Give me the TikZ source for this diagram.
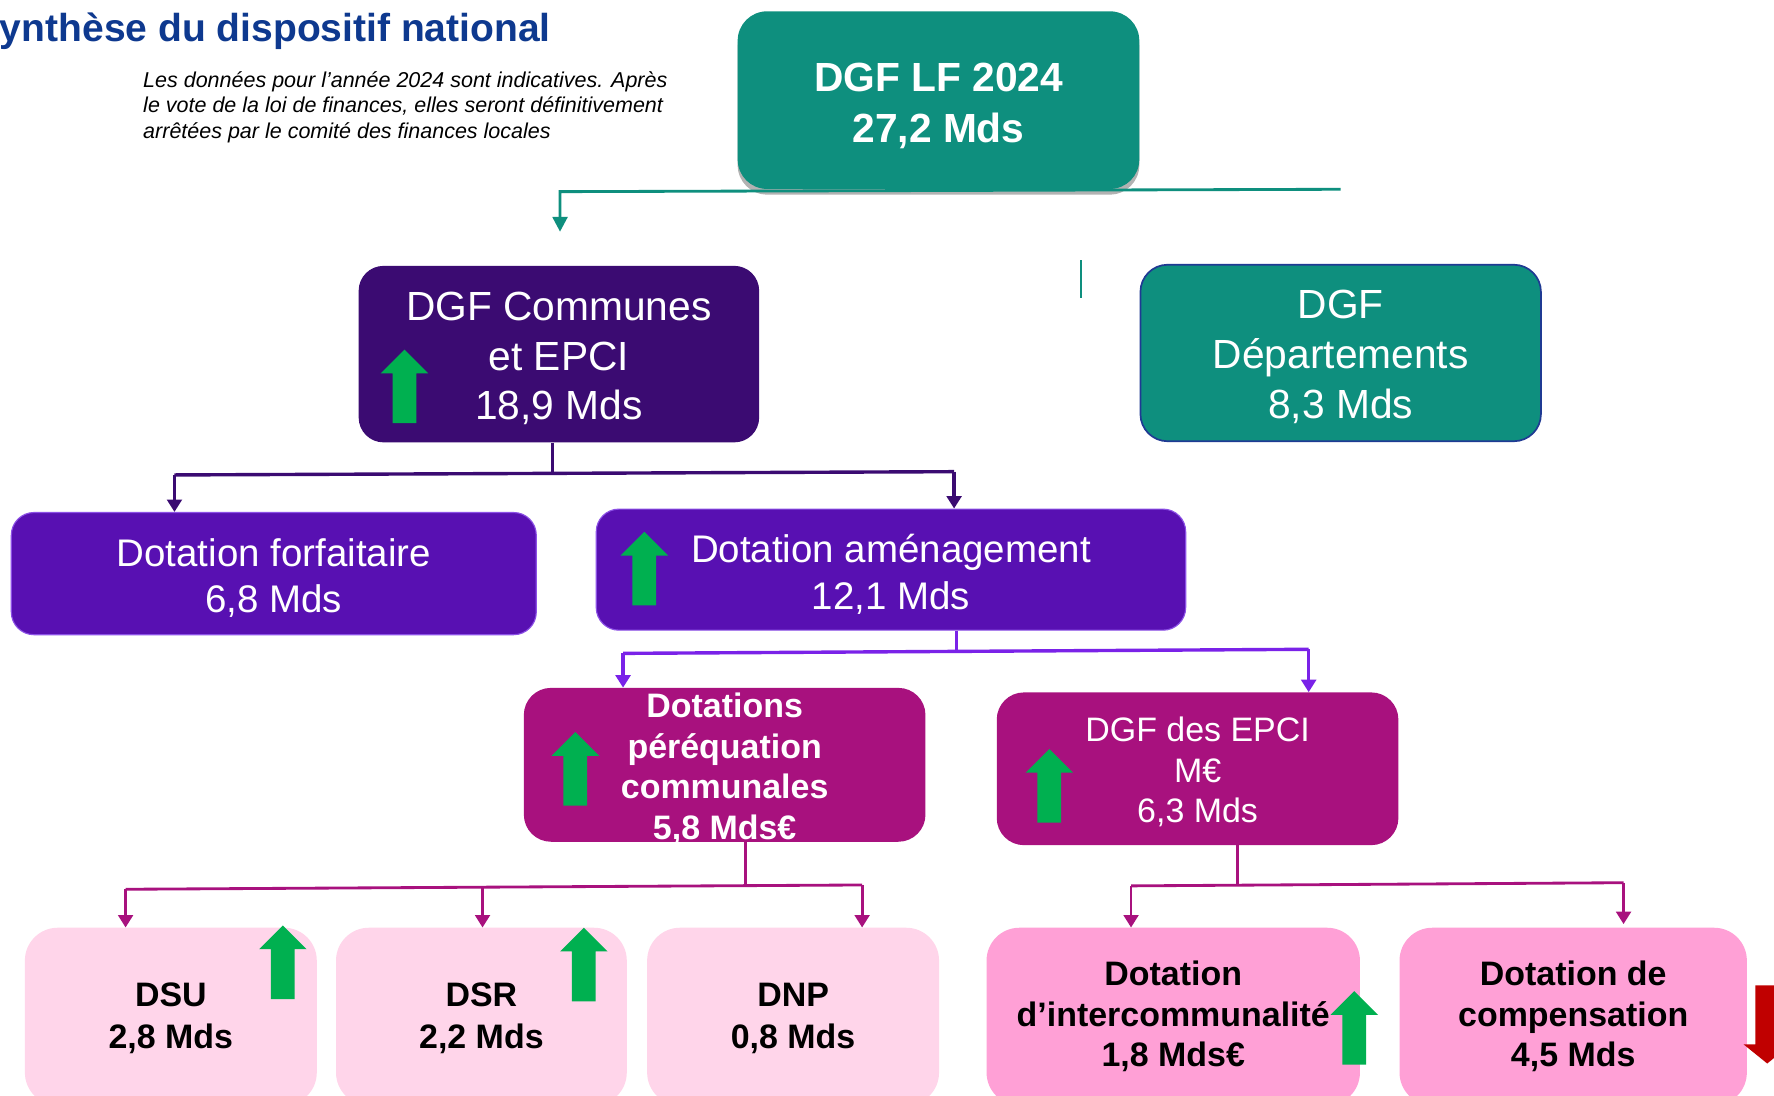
\documentclass[tikz,border=0pt]{standalone}
\usepackage{fontspec}
\setmainfont{Liberation Sans}
\usetikzlibrary{arrows.meta,shadows,calc}
\definecolor{teal1}{RGB}{14,143,126}
\definecolor{dpurple}{RGB}{59,11,114}
\definecolor{mpurple}{RGB}{88,16,178}
\definecolor{mpborder}{RGB}{140,80,230}
\definecolor{vline}{RGB}{122,34,232}
\definecolor{magenta1}{RGB}{168,17,126}
\definecolor{lpink}{RGB}{255,213,234}
\definecolor{pink1}{RGB}{255,160,214}
\definecolor{tblue}{RGB}{14,57,143}
\definecolor{upgreen}{RGB}{0,176,80}
\definecolor{downred}{RGB}{192,0,0}
\definecolor{depborder}{RGB}{31,58,147}
\newcommand{\firststrut}[1]{\rule{0pt}{#1}}
\tikzset{
  boxbase/.style={rectangle, inner sep=0pt, align=center},
  topbox/.style={boxbase, fill=teal1, text=white, rounded corners=26pt,
     font=\bfseries\fontsize{36}{45}\selectfont,
     drop shadow={shadow xshift=0pt, shadow yshift=-5pt, opacity=0.3, fill=black}},
  depbox/.style={boxbase, fill=teal1, draw=depborder, line width=1.5pt, text=white, rounded corners=24pt,
     font=\fontsize{36}{44.5}\selectfont},
  dpbox/.style={boxbase, fill=dpurple, text=white, rounded corners=22pt,
     font=\fontsize{36}{44}\selectfont},
  mpbox/.style={boxbase, fill=mpurple, draw=mpborder, line width=1pt, text=white, rounded corners=20pt,
     font=\fontsize{34}{41}\selectfont},
  magbox/.style={boxbase, fill=magenta1, text=white, rounded corners=24pt},
  lpbox/.style={boxbase, fill=lpink, text=black, rounded corners=29pt,
     font=\bfseries\fontsize{30}{37}\selectfont},
  pkbox/.style={boxbase, fill=pink1, text=black, rounded corners=29pt,
     font=\bfseries\fontsize{30}{36}\selectfont},
  tealln/.style={draw=teal1, line width=2.5pt},
  dpln/.style={draw=dpurple, line width=3pt},
  vln/.style={draw=vline, line width=3pt},
  magln/.style={draw=magenta1, line width=2.5pt},
  bigtip/.style={-{Triangle[width=13pt,length=13pt]}},
  smalltip/.style={-{Triangle[width=13pt,length=11pt]}},
  greenup/.pic={\fill[upgreen] (0,0) -- (21,21) -- (10.5,21) -- (10.5,65) -- (-10.5,65) -- (-10.5,21) -- (-21,21) -- cycle;},
  reddown/.pic={\fill[downred] (0,69) -- (21,52) -- (10.5,52) -- (10.5,0) -- (-10.5,0) -- (-10.5,52) -- (-21,52) -- cycle;},
  subline/.style={anchor=base west, inner sep=0pt, font=\itshape\fontsize{19}{22}\selectfont}
}
\begin{document}
\begin{tikzpicture}[x=1pt,y=-1pt]
\useasboundingbox (0,0) rectangle (1568,968);
\clip (0,0) rectangle (1568,968);
\fill[white] (0,0) rectangle (1568,968);

% title and note
\node[anchor=base east, inner sep=0pt, text=tblue, font=\bfseries\fontsize{34.5}{40}\selectfont] (title) at (487,37) {Synthèse du dispositif national};
\node[subline] (sub1) at (126.4,77.5) {Les données pour l’année 2024 sont indicatives. Après};
\node[subline] (sub2) at (126.4,99.5) {le vote de la loi de finances, elles seront définitivement};
\node[subline] (sub3) at (126.4,122) {arrêtées par le comité des finances locales};

% boxes
\node[topbox, minimum width=355pt, minimum height=157pt] (top) at (829.5,88.5) {\firststrut{35pt}DGF LF 2024\\27,2 Mds};
\node[dpbox, minimum width=354pt, minimum height=156pt] (comm) at (494,313) {\firststrut{33pt}DGF Communes\\et EPCI\\18,9 Mds};
\node[depbox, minimum width=354pt, minimum height=156pt] (dep) at (1185,312) {\firststrut{32pt}DGF\\Départements\\8,3 Mds};
\node[mpbox, minimum width=464pt, minimum height=108pt] (forf) at (242,507) {\firststrut{32pt}Dotation forfaitaire\\6,8 Mds};
\node[mpbox, minimum width=521pt, minimum height=107pt] (amen) at (787.5,503.5) {\firststrut{33pt}Dotation aménagement\\12,1 Mds};
\node[magbox, minimum width=355pt, minimum height=136pt] (per) at (640.5,676) {};
\node[inner sep=0pt, align=center, text=white, font=\bfseries\fontsize{30}{36}\selectfont] (pertext) at ($(per.center)+(0,3.5)$) {Dotations\\péréquation\\communales\\5,8 Mds€};
\node[magbox, minimum width=355pt, minimum height=135pt, font=\fontsize{30}{36}\selectfont] (epci) at (1058.5,679.5) {\firststrut{27.5pt}DGF des EPCI\\M€\\6,3 Mds};
\node[lpbox, minimum width=258pt, minimum height=157pt] (dsu) at (151,898.5) {\firststrut{23.5pt}DSU\\2,8 Mds};
\node[lpbox, minimum width=257pt, minimum height=157pt] (dsr) at (425.5,898.5) {\firststrut{23.5pt}DSR\\2,2 Mds};
\node[lpbox, minimum width=258pt, minimum height=157pt] (dnp) at (701,898.5) {\firststrut{23.5pt}DNP\\0,8 Mds};
\node[pkbox, minimum width=330pt, minimum height=157pt] (inter) at (1037,898.5) {Dotation\\d’intercommunalité\\1,8 Mds€};
\node[pkbox, minimum width=307pt, minimum height=157pt] (comp) at (1390.5,898.5) {Dotation de\\compensation\\4,5 Mds};

% growth arrows
\pic at (357.5,309) {greenup};
\pic at (569.5,470) {greenup};
\pic at (508.5,647) {greenup};
\pic at (927.5,662) {greenup};
\pic at (250,818) {greenup};
\pic at (516,820) {greenup};
\pic at (1197,876) {greenup};
\pic at (1562,871) {reddown};

% teal connector from top box
\coordinate (tR) at (1185,167.3);
\coordinate (tL) at (495,169.4);
\coordinate (tA) at (495,204.8);
\draw[tealln, bigtip] (tR) -- (tL) -- (tA);
\coordinate (k1) at (955.6,230);
\coordinate (k2) at (955.6,263);
\draw[tealln, line width=2.2pt] (k1) -- (k2);

% dark purple connector
\coordinate (dL) at (154.2,419.8);
\coordinate (dR) at (843.3,416.9);
\coordinate (dM) at (488.5,418.3);
\draw[dpln] (comm.south -| dM) -- (dM);
\draw[dpln] (dL) -- (dR);
\draw[dpln, smalltip] (dL) -- (dL |- forf.north);
\draw[dpln, smalltip] (dR) -- (dR |- amen.north);

% violet connector
\coordinate (vL) at (550.7,577.5);
\coordinate (vR) at (1156.7,573.9);
\coordinate (vM) at (845.3,575.7);
\draw[vln] (amen.south -| vM) -- (vM);
\draw[vln] (vL) -- (vR);
\draw[vln, smalltip] (vL) -- (vL |- per.north);
\draw[vln, smalltip] (vR) -- (vR |- epci.north);

% magenta connector from perequation
\coordinate (mL) at (111,786);
\coordinate (mR) at (762,782.2);
\coordinate (mC) at (426.5,784.6);
\coordinate (mM) at (658.7,784);
\draw[magln] (per.south -| mM) -- (mM);
\draw[magln] (mL) -- (mR);
\draw[magln, smalltip] (mL) -- (mL |- dsu.north);
\draw[magln, smalltip] (mC) -- (mC |- dsr.north);
\draw[magln, smalltip] (mR) -- (mR |- dnp.north);

% magenta connector from DGF des EPCI
\coordinate (nL) at (999.7,783);
\coordinate (nR) at (1435,780.2);
\coordinate (nM) at (1094,781.7);
\draw[magln] (epci.south -| nM) -- (nM);
\draw[magln] (nL) -- (nR);
\draw[magln, smalltip] (nL) -- (nL |- inter.north);
\draw[magln, smalltip] (nR) -- ($(nR |- comp.north)+(0,-3)$);
\end{tikzpicture}
\end{document}
